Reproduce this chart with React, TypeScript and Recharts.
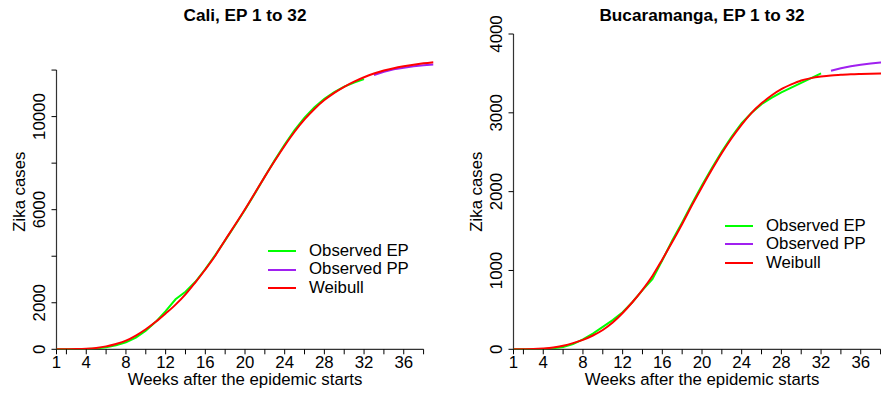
import { LineChart, Line, XAxis, YAxis, Legend, ReferenceLine, Label } from 'recharts';

const FONT = '"Liberation Sans", Arial, Helvetica, sans-serif';

const weeks = [
  1, 2, 3, 4, 5, 6, 7, 8, 9, 10, 11, 12, 13, 14, 15, 16, 17, 18, 19, 20,
  21, 22, 23, 24, 25, 26, 27, 28, 29, 30, 31, 32, 33, 34, 35, 36, 37, 38, 39,
];

// Cali
const caliWeibull = [
  0, 2, 8, 25, 60, 125, 230, 370, 590, 860, 1180, 1540, 1920, 2360, 2880, 3430, 4020, 4700, 5350, 6020,
  6720, 7420, 8100, 8750, 9350, 9880, 10330, 10710, 11020, 11280, 11500, 11690, 11850, 11980, 12080, 12160, 12230, 12290, 12340,
];
const caliObservedEP = [
  0, 0, 2, 10, 35, 85, 170, 300, 500, 800, 1180, 1640, 2150, 2470, 2900, 3450, 4050, 4680, 5330, 6000,
  6700, 7430, 8130, 8800, 9420, 9960, 10400, 10760, 11050, 11290, 11460, 11610,
];
const caliObservedPP = [11790, 11930, 12030, 12100, 12160, 12205, 12240];

// Bucaramanga
const bucaWeibull = [
  0, 1, 3, 10, 22, 45, 78, 120, 175, 245, 340, 460, 600, 755, 930, 1140, 1360, 1590, 1830, 2060,
  2280, 2490, 2680, 2850, 3000, 3120, 3220, 3300, 3360, 3410, 3440, 3460, 3475, 3483, 3490, 3494, 3497, 3499, 3500,
];
const bucaObservedEP = [
  0, 0, 1, 5, 14, 30, 65, 125, 200, 285, 370, 470, 600, 750, 890, 1130, 1380, 1610, 1850, 2080,
  2300, 2510, 2700, 2870, 3000, 3110, 3190, 3260, 3320, 3380, 3440, 3500,
];
const bucaObservedPP = [3535, 3565, 3590, 3610, 3625, 3638, 3650];

const xTicks = [1, 2, 4, 6, 8, 10, 12, 14, 16, 18, 20, 22, 24, 26, 28, 30, 32, 34, 36, 38];
const xLabelled = [1, 4, 8, 12, 16, 20, 24, 28, 32, 36];
const caliYTicks = [0, 2000, 4000, 6000, 8000, 10000, 12000];
const caliYLabelled = [0, 2000, 6000, 10000];
const bucaYTicks = [0, 1000, 2000, 3000, 4000];

const buildRows = (wb: number[], ep: number[], pp: number[]) =>
  weeks.map((w, i) => ({
    week: w,
    ep: i < ep.length ? ep[i] : null,
    pp: i >= ep.length ? pp[i - ep.length] : null,
    wb: wb[i],
  }));

const PLOT_TOP = 34;
const PLOT_BOTTOM = 349.3;
const CHART_H = 394;
const FS = 16.8;

function legendContent({ payload }: any) {
  return (
    <div style={{ fontFamily: FONT, fontSize: FS, color: '#000' }}>
      {(payload || []).map((e: any) => (
        <div key={e.value} style={{ display: 'flex', alignItems: 'center', height: 18.5 }}>
          <div style={{ width: 28, height: 2, background: e.color, marginRight: 13 }} />
          <span style={{ lineHeight: '18.5px' }}>{e.value}</span>
        </div>
      ))}
    </div>
  );
}

type PanelProps = {
  title: string;
  rows: any[];
  yMax: number;
  yTicks: number[];
  yLabelled: number[];
  left: number;
  axisW: number;
  legendLeft: number;
  legendTop: number;
};

function Panel({ title, rows, yMax, yTicks, yLabelled, left, axisW, legendLeft, legendTop }: PanelProps) {
  const width = axisW + 377 + 6.5;
  const XTick = (p: any) =>
    xLabelled.includes(p.payload.value) ? (
      <text x={p.x} y={PLOT_BOTTOM + 19} textAnchor="middle" fontFamily={FONT} fontSize={FS} fill="#000">
        {p.payload.value}
      </text>
    ) : (
      <g />
    );
  const YTick = (p: any) =>
    yLabelled.includes(p.payload.value) ? (
      <text
        transform={`translate(${axisW - 12},${p.y}) rotate(-90)`}
        textAnchor="middle"
        fontFamily={FONT}
        fontSize={FS}
        fill="#000"
      >
        {p.payload.value}
      </text>
    ) : (
      <g />
    );

  return (
    <div style={{ position: 'absolute', left, top: 0 }}>
      <LineChart width={width} height={CHART_H} data={rows} margin={{ top: PLOT_TOP, right: 6.5, bottom: 0, left: 0 }}>
        <XAxis
          dataKey="week"
          type="number"
          domain={[1, 39]}
          ticks={xTicks}
          interval={0}
          allowDataOverflow
          height={CHART_H - PLOT_BOTTOM}
          axisLine={false}
          tickLine={{ stroke: '#000' }}
          tickSize={5}
          tick={XTick}
        >
          <Label
            content={({ viewBox }: any) => (
              <text
                x={viewBox.x + viewBox.width / 2}
                y={viewBox.y + 36}
                textAnchor="middle"
                fontFamily={FONT}
                fontSize={FS}
                fill="#000"
              >
                Weeks after the epidemic starts
              </text>
            )}
          />
          <Label
            content={({ viewBox }: any) => (
              <text
                x={viewBox.x + viewBox.width / 2}
                y={20.5}
                textAnchor="middle"
                fontFamily={FONT}
                fontSize={17.2}
                fontWeight="bold"
                fill="#000"
              >
                {title}
              </text>
            )}
          />
        </XAxis>
        <YAxis
          type="number"
          domain={[0, yMax]}
          ticks={yTicks}
          interval={0}
          allowDataOverflow
          width={axisW}
          axisLine={false}
          tickLine={{ stroke: '#000' }}
          tickSize={5}
          tick={YTick}
        >
          <Label
            content={({ viewBox }: any) => (
              <text
                transform={`translate(${axisW - 31.5},${viewBox.y + viewBox.height / 2}) rotate(-90)`}
                textAnchor="middle"
                fontFamily={FONT}
                fontSize={FS}
                fill="#000"
              >
                Zika cases
              </text>
            )}
          />
        </YAxis>
        <ReferenceLine segment={[{ x: 1, y: 0 }, { x: 38, y: 0 }]} stroke="#333" strokeWidth={1.2} ifOverflow="visible" />
        <ReferenceLine
          segment={[{ x: 1, y: 0 }, { x: 1, y: yTicks[yTicks.length - 1] }]}
          stroke="#333"
          strokeWidth={1.2}
          ifOverflow="visible"
        />
        <Line name="Observed EP" dataKey="ep" type="linear" stroke="#00FF00" strokeWidth={2} dot={false} isAnimationActive={false} />
        <Line name="Observed PP" dataKey="pp" type="linear" stroke="#A020F0" strokeWidth={2} dot={false} isAnimationActive={false} />
        <Line name="Weibull" dataKey="wb" type="monotone" stroke="#FF0000" strokeWidth={2} dot={false} isAnimationActive={false} />
        <Legend
          layout="vertical"
          align="center"
          verticalAlign="middle"
          content={legendContent}
          wrapperStyle={{ left: legendLeft, top: legendTop, width: 'auto', right: 'auto', bottom: 'auto' }}
        />
      </LineChart>
    </div>
  );
}

export default function App() {
  return (
    <div
      style={{
        position: 'absolute',
        left: 0,
        top: 0,
        width: 881,
        height: 394,
        overflow: 'hidden',
        background: '#fff',
      }}
    >
      <Panel
        title="Cali, EP 1 to 32"
        rows={buildRows(caliWeibull, caliObservedEP, caliObservedPP)}
        yMax={13550}
        yTicks={caliYTicks}
        yLabelled={caliYLabelled}
        left={0}
        axisW={56.5}
        legendLeft={268}
        legendTop={241.75}
      />
      <Panel
        title="Bucaramanga, EP 1 to 32"
        rows={buildRows(bucaWeibull, bucaObservedEP, bucaObservedPP)}
        yMax={4000}
        yTicks={bucaYTicks}
        yLabelled={bucaYTicks}
        left={440}
        axisW={73.5}
        legendLeft={285}
        legendTop={216.5}
      />
    </div>
  );
}
